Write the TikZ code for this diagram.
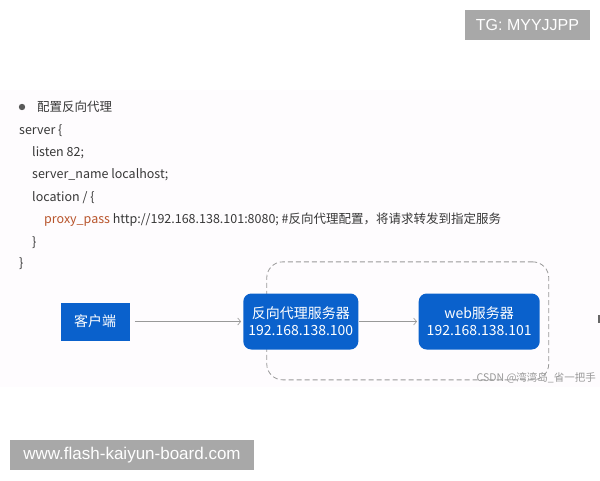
\documentclass[tikz,border=0pt]{standalone}
\usepackage{fontspec}
\setmainfont{Noto Sans CJK SC}
\newfontfamily\badgefont{Liberation Sans}
\usepackage{tikz}
\usetikzlibrary{calc}
\usetikzlibrary{arrows.meta}
\usepackage{xcolor}
\definecolor{boxblue}{rgb}{0.04,0.38,0.80}
\definecolor{codegray}{rgb}{0.22,0.22,0.22}
\definecolor{keyorange}{rgb}{0.72,0.33,0.17}
\definecolor{badgegray}{rgb}{0.66,0.66,0.66}
\definecolor{slidebg}{rgb}{0.996,0.988,0.996}
\definecolor{wiregray}{rgb}{0.6,0.6,0.6}
\tikzset{
  code line/.style={anchor=base west, inner sep=0pt, text=codegray,
    font=\fontsize{12.5}{15}\selectfont},
  client box/.style={fill=boxblue, text=white, minimum width=69pt,
    minimum height=38pt, inner sep=0pt, font=\fontsize{14}{17}\selectfont},
  server box/.style={fill=boxblue, text=white, rounded corners=8pt,
    minimum height=56pt, inner sep=0pt, align=center,
    font=\fontsize{14}{16.7}\selectfont},
  group box/.style={draw=wiregray, line width=0.8pt, dash pattern=on 5pt off 3pt,
    rounded corners=16pt, inner sep=0pt},
  badge/.style={fill=badgegray, text=white, inner sep=0pt, minimum height=30pt,
    font=\badgefont\fontsize{16}{19}\selectfont},
  flow/.style={draw=wiregray, line width=0.6pt, -{Straight Barb[length=3pt,width=7pt]}},
}

\begin{document}
\begin{tikzpicture}[x=1pt,y=-1pt]
\useasboundingbox (0,0) rectangle (600,480);
\fill[white] (0,0) rectangle (600,480);
\fill[slidebg] (0,90) rectangle (600,387);

%%%%%%%%%%%%%%%%%%%%%%%%%%%%%%%%%%%%%%%%%%%%%%%%%%%%%%%%%%%%%% Badges
\node[badge, minimum width=125pt] (tg) at (527.5,25) {TG: MYYJJPP};
\node[badge, minimum width=244pt, font=\badgefont\fontsize{17}{19}\selectfont] (site) at (132,455) {www.flash-kaiyun-board.com};

%%%%%%%%%%%%%%%%%%%%%%%%%%%%%%%%%%%%%%%%%%%%%%%%%%%%%%%%%%%%%% Config
\coordinate (C) at (19,134.5);
\fill[black!65] ($(C)+(3,-27.5)$) circle (3.2pt);
\node[code line] (title) at ($(C)+(18,-23)$) {配置反向代理};
\node[code line] (srv) at (C) {server \{};
\node[code line] (listen) at ($(C)+(13,22)$) {listen 82;};
\node[code line] (sname) at ($(C)+(13,44)$) {server\_name localhost;};
\node[code line] (loc) at ($(C)+(13,66.5)$) {location / \{};
\node[code line] (pass) at ($(C)+(25,89)$) {\textcolor{keyorange}{proxy\_pass} http://192.168.138.101:8080; \#反向代理配置，将请求转发到指定服务};
\node[code line] (locend) at ($(C)+(13,111.5)$) {\}};
\node[code line] (srvend) at ($(C)+(0,133)$) {\}};

%%%%%%%%%%%%%%%%%%%%%%%%%%%%%%%%%%%%%%%%%%%%%%%%%%%%%%%%%%%%%% Diagram
\node[group box, minimum width=282pt, minimum height=118pt] (backend) at (407.75,320.85) {};

\node[client box] (client) at (95.1,321.5) {客户端};
\node[server box, minimum width=115pt] (proxy) at (300.8,321.5) {反向代理服务器\\192.168.138.100};
\node[server box, minimum width=121pt] (web) at (479.2,321.5) {web服务器\\192.168.138.101};

\draw[flow, shorten <=5pt, shorten >=2pt] (client) -- (proxy);
\draw[flow, shorten >=1.5pt] (proxy) -- (web);

\node[anchor=west, inner sep=0pt, text=black!40, font=\fontsize{10.5}{12}\selectfont] (mark) at (476.5,377.7) {CSDN @湾湾岛\_省一把手};
\draw[line width=1.3pt, black!60] (599,315) -- (599,323);

\end{tikzpicture}
\end{document}
